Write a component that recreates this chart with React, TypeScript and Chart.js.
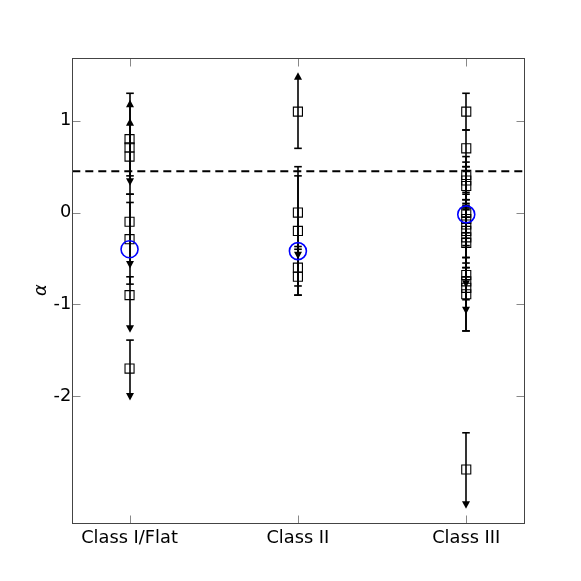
import React, { useEffect, useRef } from 'react';
import { Chart, registerables } from 'chart.js';

Chart.register(...registerables);

// ---------------- data ----------------
const categories = ['Class I/Flat', 'Class II', 'Class III'];
const yTicks = [-2, -1, 0, 1];

// limit: 'up' = arrow at upper end (lower limit), 'down' = arrow at lower end, 'none' = caps both ends
const classIAlpha = [0.80, 0.71, 0.61, -0.10, -0.29, -0.90, -1.70];
const classIHigh = [1.30, 1.18, 0.98, 0.11, 0.20, -0.70, -1.39];
const classILow = [0.34, 0.40, 0.20, -0.56, -0.78, -1.26, -2.00];
const classILimit = ['down', 'up', 'up', 'down', 'none', 'down', 'down'];

const classIIAlpha = [1.10, 0.00, -0.20, -0.60, -0.70];
const classIIHigh = [1.48, 0.50, 0.40, -0.37, -0.40];
const classIILow = [0.70, -0.46, -0.80, -0.90, -0.90];
const classIILimit = ['up', 'down', 'none', 'none', 'none'];

const classIIIAlpha = [1.10, 0.70, 0.41, 0.35, 0.29, 0.00, -0.07, -0.13, -0.20, -0.27, -0.33, -0.68, -0.75, -0.82, -0.89, -2.80];
const classIIIHigh = [1.30, 0.90, 0.61, 0.55, 0.50, 0.22, 0.14, 0.10, 0.05, 0.03, -0.05, -0.49, -0.55, -0.60, -0.70, -2.40];
const classIIILow = [0.90, 0.50, 0.20, 0.14, 0.08, -0.22, -0.28, -0.36, -0.49, -0.60, -0.77, -1.06, -0.95, -1.29, -1.29, -3.18];
const classIIILimit = ['none', 'none', 'none', 'none', 'none', 'none', 'none', 'none', 'none', 'none', 'down', 'down', 'none', 'none', 'none', 'down'];

const meanAlpha = [-0.40, -0.42, -0.02];
const thresholdAlpha = 0.45;

const xMin = 0.66;
const xMax = 3.34;
const yMin = -3.38;
const yMax = 1.69;

// ---------------- derived ----------------
type Pt = { x: number; y: number; hi: number; lo: number; lim: string };
const groups = [
  [classIAlpha, classIHigh, classILow, classILimit],
  [classIIAlpha, classIIHigh, classIILow, classIILimit],
  [classIIIAlpha, classIIIHigh, classIIILow, classIIILimit],
] as const;

const points: Pt[] = [];
groups.forEach((g, ci) => {
  const [a, h, l, lim] = g as any;
  a.forEach((v: number, i: number) => {
    points.push({ x: ci + 1, y: v, hi: h[i], lo: l[i], lim: lim[i] });
  });
});

const errorBarPlugin = {
  id: 'errorBars',
  beforeDatasetsDraw(chart: any) {
    const { ctx, scales } = chart;
    const xs = scales.x;
    const ys = scales.y;
    ctx.save();
    ctx.strokeStyle = '#000';
    ctx.fillStyle = '#000';
    ctx.lineWidth = 1.6;
    points.forEach((p) => {
      const px = Math.round(xs.getPixelForValue(p.x));
      const pHi = ys.getPixelForValue(p.hi);
      const pLo = ys.getPixelForValue(p.lo);
      ctx.beginPath();
      ctx.moveTo(px, pHi);
      ctx.lineTo(px, pLo);
      ctx.stroke();
      const cap = (py: number) => {
        ctx.beginPath();
        ctx.moveTo(px - 3.8, py);
        ctx.lineTo(px + 3.8, py);
        ctx.stroke();
      };
      const arrowUp = (py: number) => {
        ctx.beginPath();
        ctx.moveTo(px, py - 4.5);
        ctx.lineTo(px + 4, py + 3);
        ctx.lineTo(px - 4, py + 3);
        ctx.closePath();
        ctx.fill();
      };
      const arrowDown = (py: number) => {
        ctx.beginPath();
        ctx.moveTo(px, py + 4.5);
        ctx.lineTo(px + 4, py - 3);
        ctx.lineTo(px - 4, py - 3);
        ctx.closePath();
        ctx.fill();
      };
      if (p.lim === 'up') arrowUp(pHi); else cap(pHi);
      if (p.lim === 'down') arrowDown(pLo); else cap(pLo);
    });
    ctx.restore();
  },
};

const framePlugin = {
  id: 'frameTicks',
  afterDraw(chart: any) {
    const { ctx, chartArea, scales } = chart;
    const l = Math.round(chartArea.left) + 0.5;
    const r = Math.round(chartArea.right) + 0.5;
    const t = Math.round(chartArea.top) + 0.5;
    const b = Math.round(chartArea.bottom) + 0.5;
    ctx.save();
    ctx.strokeStyle = '#888';
    ctx.lineWidth = 1;
    const tl = 8;
    [1, 2, 3].forEach((v) => {
      const px = Math.round(scales.x.getPixelForValue(v)) + 0.5;
      ctx.beginPath();
      ctx.moveTo(px, b);
      ctx.lineTo(px, b - tl);
      ctx.moveTo(px, t);
      ctx.lineTo(px, t + tl);
      ctx.stroke();
    });
    yTicks.forEach((v) => {
      const py = Math.round(scales.y.getPixelForValue(v)) + 0.5;
      ctx.beginPath();
      ctx.moveTo(l, py);
      ctx.lineTo(l + tl, py);
      ctx.moveTo(r, py);
      ctx.lineTo(r - tl, py);
      ctx.stroke();
    });
    ctx.strokeStyle = '#444';
    ctx.strokeRect(l, t, r - l, b - t);
    ctx.restore();
  },
};

export default function App() {
  const ref = useRef<HTMLCanvasElement>(null);

  useEffect(() => {
    if (!ref.current) return;
    const chart = new Chart(ref.current, {
      type: 'scatter',
      data: {
        datasets: [
          {
            label: 'mean',
            data: meanAlpha.map((v, i) => ({ x: i + 1, y: v })),
            pointStyle: 'circle',
            pointRadius: 8.5,
            borderColor: '#0000ff',
            borderWidth: 1.6,
            backgroundColor: 'rgba(0,0,0,0)',
            order: 0,
          },
          {
            label: 'alpha',
            data: points.map((p) => ({ x: p.x, y: p.y })),
            pointStyle: 'rect',
            pointRadius: 6.4,
            borderColor: '#000',
            borderWidth: 1.1,
            backgroundColor: 'rgba(0,0,0,0)',
            order: 1,
          },
          {
            label: 'threshold',
            type: 'line',
            data: [
              { x: xMin, y: thresholdAlpha },
              { x: xMax, y: thresholdAlpha },
            ],
            borderColor: '#000',
            borderWidth: 2,
            borderDash: [8, 5],
            pointRadius: 0,
            fill: false,
            order: 2,
          } as any,
        ],
      },
      options: {
        animation: false,
        responsive: false,
        events: [],
        layout: { padding: { top: 57.5, right: 57.5, left: 0, bottom: 0 } },
        plugins: { legend: { display: false }, tooltip: { enabled: false } },
        scales: {
          x: {
            type: 'linear',
            min: xMin,
            max: xMax,
            grid: { display: false, drawTicks: false },
            border: { display: false },
            afterBuildTicks: (s: any) => {
              s.ticks = [1, 2, 3].map((v) => ({ value: v }));
            },
            afterFit: (s: any) => {
              s.height = 58.3;
            },
            ticks: {
              autoSkip: false,
              maxRotation: 0,
              padding: 5,
              color: '#000',
              font: { family: 'DejaVu Sans', size: 17.8 },
              callback: (v: any) => categories[Math.round(Number(v)) - 1] ?? '',
            },
          },
          y: {
            type: 'linear',
            min: yMin,
            max: yMax,
            grid: { display: false, drawTicks: false },
            border: { display: false },
            afterBuildTicks: (s: any) => {
              s.ticks = yTicks.map((v) => ({ value: v }));
            },
            afterFit: (s: any) => {
              s.width = 72.3;
            },
            ticks: {
              autoSkip: false,
              padding: 1,
              color: '#000',
              font: { family: 'DejaVu Sans', size: 17.8 },
              callback: (v: any) => String(v).replace('−', '-'),
            },
            title: {
              display: true,
              text: 'α',
              color: '#000',
              font: { family: 'DejaVu Sans', size: 18, style: 'italic' },
              padding: { top: 31, bottom: 0 },
            },
          },
        },
      },
      plugins: [errorBarPlugin, framePlugin],
    });
    return () => chart.destroy();
  }, []);

  return (
    <div style={{ position: 'fixed', left: 0, top: 0, width: 581, height: 581, background: '#fff' }}>
      <canvas ref={ref} width={581} height={581} style={{ width: 581, height: 581 }} />
    </div>
  );
}
